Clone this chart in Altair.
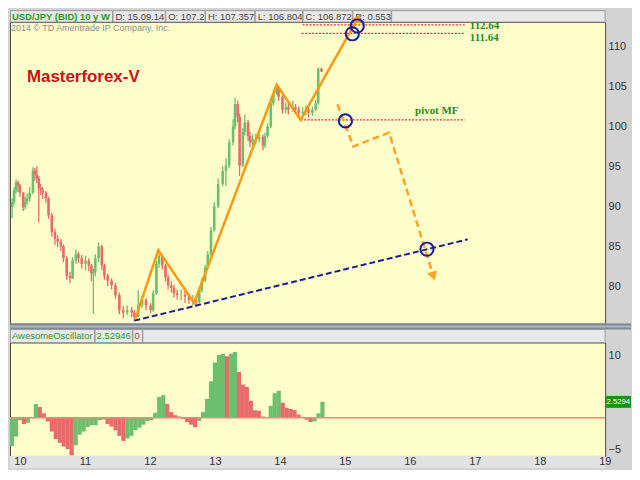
import altair as alt
import pandas as pd
import numpy as np

# ---------------- data ----------------
# weekly USD/JPY candles (time in decimal years)
bar_t = [2009.77, 2009.80, 2009.83, 2009.88, 2009.91, 2009.94, 2009.97, 2010.00, 2010.05, 2010.08,
         2010.11, 2010.15, 2010.20, 2010.23, 2010.26, 2010.29, 2010.32, 2010.35, 2010.40, 2010.44,
         2010.49, 2010.54, 2010.58, 2010.63, 2010.67, 2010.72, 2010.77, 2010.81, 2010.86, 2010.90,
         2010.95, 2011.01, 2011.06, 2011.10, 2011.13, 2011.16, 2011.21, 2011.26, 2011.30, 2011.35,
         2011.41, 2011.47, 2011.53, 2011.59, 2011.65, 2011.72, 2011.76, 2011.82, 2011.88, 2011.94,
         2012.01, 2012.05, 2012.10, 2012.14, 2012.19, 2012.24, 2012.28, 2012.33, 2012.37, 2012.42,
         2012.48, 2012.54, 2012.60, 2012.66, 2012.71, 2012.76, 2012.80, 2012.85, 2012.89, 2012.94,
         2012.99, 2013.05, 2013.12, 2013.17, 2013.22, 2013.28, 2013.31, 2013.35, 2013.38, 2013.43,
         2013.46, 2013.51, 2013.54, 2013.58, 2013.63, 2013.68, 2013.74, 2013.77, 2013.81, 2013.86,
         2013.90, 2013.95, 2013.98, 2014.04, 2014.09, 2014.13, 2014.20, 2014.24, 2014.29, 2014.35,
         2014.40, 2014.44, 2014.50, 2014.55, 2014.59, 2014.64]
bar_close = [91.7, 92.0, 89.9, 90.5, 92.0, 93.0, 92.6, 91.7, 89.9, 90.6,
             91.0, 91.7, 94.5, 94.0, 93.5, 92.3, 92.0, 91.7, 91.0, 88.9,
             86.8, 85.9, 85.6, 85.0, 83.5, 81.3, 81.0, 83.2, 84.0, 83.5,
             82.8, 83.2, 82.6, 81.6, 81.8, 83.5, 85.0, 82.6, 81.3, 80.7,
             80.1, 78.9, 77.0, 76.7, 77.0, 76.7, 76.2, 77.6, 78.3, 77.6,
             77.0, 79.1, 82.8, 83.8, 82.6, 81.1, 80.1, 79.8, 79.1, 78.9,
             78.9, 78.7, 78.3, 78.3, 78.0, 79.5, 80.7, 82.3, 84.0, 87.0,
             90.0, 92.8, 94.4, 95.1, 98.0, 100.0, 102.8, 101.2, 95.1, 99.3,
             100.5, 98.8, 98.0, 98.4, 98.4, 98.7, 97.6, 98.8, 100.0, 102.9,
             104.1, 104.9, 103.7, 102.1, 102.4, 102.1, 102.4, 102.1, 101.7, 101.8,
             102.1, 101.7, 102.1, 102.9, 107.2, 106.87]
bar_high = [92.8, 92.5, 92.2, 91.0, 92.4, 93.4, 93.2, 92.8, 91.8, 91.2,
            91.6, 92.4, 94.9, 94.8, 95.0, 93.8, 92.8, 92.4, 91.9, 91.2,
            89.2, 87.2, 86.4, 85.9, 85.2, 83.8, 81.8, 83.6, 84.6, 84.3,
            83.9, 83.8, 83.5, 82.8, 82.2, 84.0, 85.5, 85.2, 82.8, 81.6,
            81.0, 80.4, 79.2, 77.5, 77.6, 77.4, 77.0, 79.5, 78.8, 78.5,
            77.9, 79.5, 83.2, 84.4, 84.0, 82.8, 81.5, 80.6, 80.2, 79.6,
            79.6, 79.4, 79.1, 78.9, 78.8, 79.9, 81.1, 82.7, 84.4, 87.4,
            90.5, 93.5, 95.0, 96.0, 98.4, 100.9, 103.6, 103.2, 101.6, 99.8,
            101.5, 100.8, 99.3, 99.0, 99.1, 99.4, 99.0, 99.2, 100.4, 103.3,
            104.6, 105.4, 105.0, 103.9, 103.0, 102.9, 103.2, 102.8, 102.5, 102.4,
            102.6, 102.4, 102.5, 103.3, 107.4, 107.36]
bar_low = [90.8, 90.9, 85.5, 88.5, 90.2, 91.6, 91.8, 91.2, 89.4, 89.6,
           90.2, 90.6, 91.5, 93.2, 92.9, 88.0, 91.4, 90.9, 90.4, 88.4,
           86.2, 85.2, 84.9, 84.4, 83.0, 80.8, 80.4, 80.9, 82.8, 82.9,
           82.2, 82.0, 81.9, 80.6, 76.5, 81.2, 83.0, 82.0, 80.8, 80.0,
           79.6, 78.4, 76.5, 76.0, 76.4, 76.1, 75.6, 76.1, 77.3, 77.0,
           76.6, 76.8, 78.9, 82.3, 82.1, 80.6, 79.6, 79.2, 78.6, 78.3,
           78.2, 77.9, 77.8, 77.6, 77.4, 77.8, 79.2, 80.5, 82.1, 83.8,
           86.8, 89.8, 92.5, 92.5, 94.8, 97.6, 99.6, 100.5, 93.8, 94.9,
           98.9, 98.2, 97.4, 97.5, 97.8, 98.0, 97.0, 97.3, 98.5, 99.8,
           102.6, 103.9, 103.2, 101.6, 101.6, 101.5, 101.8, 101.5, 101.2, 101.2,
           101.4, 101.1, 101.3, 101.9, 102.7, 106.80]
first_open = 91.3

# Awesome Oscillator histogram
ao_t = [2009.755, 2009.816, 2009.877, 2009.939, 2010.000, 2010.061, 2010.123, 2010.184, 2010.245, 2010.306,
        2010.368, 2010.429, 2010.490, 2010.551, 2010.613, 2010.674, 2010.735, 2010.796, 2010.858, 2010.919,
        2010.980, 2011.041, 2011.103, 2011.164, 2011.225, 2011.286, 2011.348, 2011.409, 2011.470, 2011.531,
        2011.593, 2011.654, 2011.715, 2011.776, 2011.838, 2011.899, 2011.960, 2012.021, 2012.083, 2012.144,
        2012.205, 2012.266, 2012.328, 2012.389, 2012.450, 2012.511, 2012.573, 2012.634, 2012.695, 2012.756,
        2012.818, 2012.879, 2012.940, 2013.001, 2013.063, 2013.124, 2013.185, 2013.246, 2013.308, 2013.369,
        2013.430, 2013.491, 2013.553, 2013.614, 2013.675, 2013.736, 2013.798, 2013.859, 2013.920, 2013.982,
        2014.043, 2014.104, 2014.165, 2014.227, 2014.288, 2014.349, 2014.410, 2014.472, 2014.533, 2014.594,
        2014.655]
ao_val = [-4.4, -4.7, -4.5, -3.0, -0.4, -1.0, -0.8, -0.1, 2.2, 1.7,
          0.7, -0.6, -2.2, -3.4, -4.0, -4.6, -5.0, -6.0, -4.4, -2.7,
          -2.2, -1.5, -1.2, -1.2, -0.4, -0.3, -1.0, -1.4, -2.0, -2.9,
          -3.7, -3.3, -2.9, -2.0, -1.6, -1.1, -0.5, -0.4, 0.8, 3.3,
          3.6, 2.2, 0.9, 0.4, 0.2, -0.2, -0.7, -1.1, -1.5, -0.5,
          0.9, 3.0, 5.8, 8.8, 10.0, 10.2, 9.8, 10.2, 10.5, 7.3,
          5.3, 4.9, 2.7, 1.2, 1.1, 0.2, 0.1, 1.9, 3.9, 4.3,
          2.4, 1.6, 1.4, 1.2, 0.5, 0.0, -0.3, -0.7, -0.6, 0.7,
          2.53]

# drawn annotations
zig_t = [2011.776, 2012.129, 2012.680, 2013.951, 2014.319, 2015.191]
zig_p = [75.93, 84.51, 77.89, 105.22, 100.81, 113.43]
proj_t = [2014.885, 2015.130, 2015.681, 2016.355]
proj_p = [102.77, 97.50, 99.22, 81.45]
trend_t = [2011.761, 2016.891]
trend_p = [75.69, 85.86]
level_names = ["112.64", "111.64", "pivot MF"]
level_p = [112.70, 111.64, 100.81]
level_t0 = [2014.349, 2014.334, 2014.319]
level_t1 = [2016.845, 2016.830, 2016.845]
label_t = [2016.922, 2016.922, 2016.080]
label_p = [112.57, 111.10, 101.90]
circle_t = [2015.191, 2015.115, 2015.008, 2016.263]
circle_p = [112.57, 111.59, 100.69, 84.63]

# ---------------- layout constants ----------------
W, H_TOP, H_AO, RIGHT = 598, 303, 114, 624
X_LO = 2009.847
X_HI = X_LO + W / 65.3
Y_LO, Y_HI = 75.32, 113.06
AO_LO, AO_HI = -6.1, 12.0
AO_TAG = (AO_HI - 2.53) / (AO_HI - AO_LO) * H_AO

header_boxes = [(0, 103, "USD/JPY (BID) 10 y W"), (103, 156, "D: 15.09.14"), (156, 196, "O: 107.2"),
                (196, 246, "H: 107.357"), (246, 294, "L: 106.804"), (294, 344, "C: 106.872"),
                (344, 383, "R: 0.553"), (383, W, "")]
ao_boxes = [(0, 85, "AwesomeOscillator"), (85, 123, "2.52946"), (123, 133, "0"), (133, W, "")]

xs = alt.Scale(domain=[X_LO, X_HI], nice=False, zero=False, padding=0)
ys = alt.Scale(domain=[Y_LO, Y_HI], nice=False, zero=False, padding=0)
aos = alt.Scale(domain=[AO_LO, AO_HI], nice=False, zero=False, padding=0)

SANS = "Liberation Sans, Arial"
one = pd.DataFrame({"a": [0]})


def rect(x0, x1, y0, y1, fill, stroke=None, opacity=1.0):
    kw = dict(fill=fill, opacity=opacity)
    if stroke:
        kw.update(stroke=stroke, strokeWidth=1)
    return alt.Chart(one).mark_rect(**kw).encode(
        x=alt.value(x0), x2=alt.value(x1), y=alt.value(y0), y2=alt.value(y1))


def label(x, y, txt, **kw):
    return alt.Chart(one).mark_text(align="left", baseline="middle", **kw).encode(
        x=alt.value(x), y=alt.value(y), text=alt.value(txt))


# ---------------- header ----------------
top_layers = []
for x0, x1, txt in header_boxes:
    top_layers.append(rect(x0 + 0.5, x1, -11.5, 0, "#E8E8E8", stroke="#9A9A9A"))
    if txt:
        if x0 == 0:
            top_layers.append(label(x0 + 2, -5.5, txt, font=SANS, fontSize=9.5, fontWeight="bold",
                                    color="#1E9E1E"))
        else:
            top_layers.append(label(x0 + 3, -5.5, txt, font=SANS, fontSize=9.5, color="#444444"))

# ---------------- candles ----------------
opens = [first_open] + bar_close[:-1]
cdf = pd.DataFrame({"t": bar_t, "open": opens, "close": bar_close, "high": bar_high, "low": bar_low})
cdf["dir"] = np.where(cdf["close"] >= cdf["open"], "up", "down")
cdf = cdf[cdf["t"] >= X_LO]

wick = alt.Chart(cdf).mark_rule(strokeWidth=1.3).encode(
    x=alt.X("t:Q", scale=xs, axis=None),
    y=alt.Y("low:Q", scale=ys),
    y2="high:Q",
    color=alt.Color("dir:N", scale=alt.Scale(domain=["up", "down"], range=["#6CBF6C", "#E86A6A"]), legend=None),
)
body = alt.Chart(cdf).mark_bar(size=2.6).encode(
    x=alt.X("t:Q", scale=xs, axis=None),
    y=alt.Y("open:Q", scale=ys, axis=alt.Axis(orient="right", values=[80, 85, 90, 95, 100, 105, 110],
                                              tickSize=0, domain=False, grid=False, labelColor="#333333",
                                              labelFontSize=11, labelFont=SANS, labelPadding=3,
                                              title=None, zindex=1)),
    y2="close:Q",
    color=alt.Color("dir:N", scale=alt.Scale(domain=["up", "down"], range=["#269426", "#D00E0E"]), legend=None),
)

zdf = pd.DataFrame({"t": zig_t, "p": zig_p, "i": range(len(zig_t))})
zig = alt.Chart(zdf).mark_line(color="#FF9A10", strokeWidth=2.5, clip=False).encode(
    x=alt.X("t:Q", scale=xs), y=alt.Y("p:Q", scale=ys), order="i:Q")
zig_head = alt.Chart(zdf.tail(1)).mark_point(shape="triangle", filled=True, size=95, angle=29,
                                             color="#FF9A10", opacity=1).encode(
    x=alt.X("t:Q", scale=xs), y=alt.Y("p:Q", scale=ys))

pdf = pd.DataFrame({"t": proj_t, "p": proj_p, "i": range(len(proj_t))})
proj = alt.Chart(pdf).mark_line(color="#FFA522", strokeWidth=2.5, strokeDash=[7, 4]).encode(
    x=alt.X("t:Q", scale=xs), y=alt.Y("p:Q", scale=ys), order="i:Q")
proj_head = alt.Chart(pdf.tail(1)).mark_point(shape="triangle", filled=True, size=110, angle=163,
                                              color="#FFA522", opacity=1).encode(
    x=alt.X("t:Q", scale=xs), y=alt.Y("p:Q", scale=ys))

tdf = pd.DataFrame({"t": trend_t, "p": trend_p})
trend = alt.Chart(tdf).mark_line(color="#1E1E8C", strokeWidth=2, strokeDash=[6, 3]).encode(
    x=alt.X("t:Q", scale=xs), y=alt.Y("p:Q", scale=ys))

ldf = pd.DataFrame({"name": level_names, "p": level_p, "t0": level_t0, "t1": level_t1,
                    "lt": label_t, "lp": label_p})
levels = alt.Chart(ldf).mark_rule(color="#E5303A", strokeWidth=1.4, strokeDash=[2, 1.5]).encode(
    x=alt.X("t0:Q", scale=xs), x2="t1:Q", y=alt.Y("p:Q", scale=ys))
level_txt = alt.Chart(ldf).mark_text(align="left", baseline="middle", font="Liberation Serif",
                                     fontWeight="bold", fontSize=11, color="#1E8C1E").encode(
    x=alt.X("lt:Q", scale=xs), y=alt.Y("lp:Q", scale=ys), text="name:N")

circ = alt.Chart(pd.DataFrame({"t": circle_t, "p": circle_p})).mark_point(
    shape="circle", filled=False, size=175, color="#1C1C9C", strokeWidth=2, opacity=1).encode(
    x=alt.X("t:Q", scale=xs), y=alt.Y("p:Q", scale=ys))

top_layers += [wick, body, trend, levels, zig, zig_head, proj, proj_head, circ, level_txt,
               label(17, 55, "Masterforex-V", font=SANS, fontSize=17, fontWeight="bold", color="#C81414"),
               label(1, 6, "2014 \u00a9 TD Ameritrade IP Company, Inc.", font=SANS, fontSize=9,
                     color="#8C8C8C"),
               rect(W, RIGHT, 0, H_TOP, "#D3D3D3", opacity=0)]

top = alt.layer(*top_layers).properties(width=W, height=H_TOP)

# ---------------- AO panel ----------------
adf = pd.DataFrame({"t": ao_t, "ao": ao_val})
adf["dir"] = np.where(adf["ao"].diff().fillna(0) >= 0, "up", "down")
adf = adf[adf["t"] >= X_LO + 0.03]

ao_bars = alt.Chart(adf).mark_bar(size=4.2).encode(
    x=alt.X("t:Q", scale=xs, axis=alt.Axis(values=list(range(2010, 2020)), labelExpr="datum.value - 2000",
                                           tickSize=0, domain=False, grid=False, labelColor="#333333",
                                           labelFontSize=11, labelFont=SANS, labelPadding=0,
                                           labelFlush=False, title=None, zindex=1)),
    y=alt.Y("ao:Q", scale=aos, axis=alt.Axis(orient="right", values=[-5, 0, 5, 10], tickSize=0,
                                             domain=False, grid=False, labelColor="#333333",
                                             labelFontSize=11, labelFont=SANS, labelPadding=3,
                                             title=None, zindex=1)),
    y2=alt.datum(0),
    color=alt.Color("dir:N", scale=alt.Scale(domain=["up", "down"], range=["#74C266", "#EA7A64"]), legend=None),
)
zero_line = alt.Chart(one).mark_rule(color="#F08A78", strokeWidth=1.5).encode(y=alt.Y(datum=0, scale=aos))

ao_layers = [rect(0, W, H_AO, H_AO + 12, "#E2E2E2"), ao_bars, zero_line,
             rect(0, RIGHT, -19, -13, "#7E8896"), rect(0, RIGHT, -17, -15, "#AEB7C2"),
             rect(W + 1, RIGHT, AO_TAG - 6, AO_TAG + 6, "#1E8E1E"),
             label(W + 1.3, AO_TAG, "2.5294", font=SANS, fontSize=7.8, color="white")]
for x0, x1, txt in ao_boxes:
    ao_layers.append(rect(x0 + 0.5, x1, -13, 0, "#E8E8E8", stroke="#9A9A9A"))
    if txt:
        ao_layers.append(label(x0 + 2, -6.5, txt, font=SANS, fontSize=9.5,
                               color="#E03030" if txt == "0" else "#2E9A2E"))
ao_layers.append(rect(W, RIGHT, 0, H_AO, "#D3D3D3", opacity=0))

bottom = alt.layer(*ao_layers).properties(width=W, height=H_AO)

chart = alt.vconcat(top, bottom, spacing=19, bounds="flush").properties(
    padding=0, background="#D3D3D3"
).configure_view(fill="#FFFFCC", stroke="#4A4A4A", strokeWidth=1)

chart.save("out.html", embed_options={"renderer": "svg", "actions": False})
